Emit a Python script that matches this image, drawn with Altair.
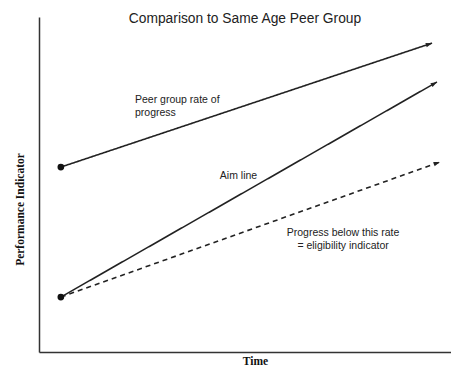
import math
import altair as alt
import pandas as pd

# ---- data (axis units 0..100) ----
series = ["Peer group", "Aim line", "Below rate"]
x_start = [5.3, 5.3, 5.3]
y_start = [55.2, 16.4, 16.4]
x_end = [95.4, 96.6, 97.3]
y_end = [92.2, 80.6, 56.7]
dashed = [False, False, True]
dots = [0, 1]  # series indices whose start has a dot

label_text = ["Peer group rate of", "progress", "Aim line",
              "Progress below this rate", "= eligibility indicator"]
label_x = [23.3, 23.3, 43.9, 73.8, 73.8]
label_y = [75.2, 71.3, 52.5, 35.5, 31.6]
label_align = ["left", "left", "left", "center", "center"]

W, H = 412, 335

rows = []
for i, s in enumerate(series):
    rows.append({"series": s, "x": x_start[i], "y": y_start[i], "o": 0})
    rows.append({"series": s, "x": x_end[i], "y": y_end[i], "o": 1})
lines_df = pd.DataFrame(rows)

heads_df = pd.DataFrame({
    "series": series,
    "x": x_end,
    "y": y_end,
    "angle": [
        (math.degrees(math.atan2(-(y_end[i] - y_start[i]) * H / 100,
                                 (x_end[i] - x_start[i]) * W / 100)) + 360) % 360
        for i in range(len(series))
    ],
})
dots_df = pd.DataFrame({"x": [x_start[i] for i in dots], "y": [y_start[i] for i in dots]})
labels_df = pd.DataFrame({"t": label_text, "x": label_x, "y": label_y, "a": label_align})

xs = alt.Scale(domain=[0, 100], nice=False, zero=False)
ys = alt.Scale(domain=[0, 100], nice=False, zero=False)

base_x = alt.X("x:Q", scale=xs, axis=alt.Axis(
    title="Time", labels=False, ticks=False, grid=False, domainColor="#333",
    domainWidth=1.5, titleFont="Liberation Serif", titleFontWeight="bold",
    titleFontSize=11.5, titleColor="#111", titleX=216, titleY=3))
base_y = alt.Y("y:Q", scale=ys, axis=alt.Axis(
    title="Performance Indicator", labels=False, ticks=False, grid=False,
    domainColor="#333", domainWidth=1.5, titleFont="Liberation Serif",
    titleFontWeight="bold", titleFontSize=11.5, titleColor="#111",
    titleX=-19, titleY=192, titleAngle=270, titleBaseline="middle"))

lines = alt.Chart(lines_df).mark_line(color="#222", strokeWidth=1.6).encode(
    x=base_x, y=base_y, order="o:Q", detail="series:N",
    strokeDash=alt.StrokeDash("series:N", scale=alt.Scale(
        domain=series, range=[[1, 0] if not d else [5, 4] for d in dashed]), legend=None),
)

heads = alt.Chart(heads_df).mark_point(
    shape="M -2 -0.7 L 0 0 L -2 0.7 Z", filled=True, color="#222", size=40, opacity=1
).encode(x=alt.X("x:Q", scale=xs), y=alt.Y("y:Q", scale=ys), angle=alt.Angle("angle:Q", scale=None))

dots_l = alt.Chart(dots_df).mark_circle(color="#111", size=45, opacity=1).encode(
    x=alt.X("x:Q", scale=xs), y=alt.Y("y:Q", scale=ys))

texts = []
for al in ["left", "center"]:
    texts.append(alt.Chart(labels_df[labels_df.a == al]).mark_text(
        align=al, baseline="middle", font="Liberation Sans", fontSize=10.5, color="#222"
    ).encode(x=alt.X("x:Q", scale=xs), y=alt.Y("y:Q", scale=ys), text="t:N"))

chart = alt.layer(lines, heads, dots_l, *texts).properties(
    width=W, height=H,
    title=alt.TitleParams("Comparison to Same Age Peer Group", font="Liberation Sans",
                          fontSize=13.8, fontWeight="normal", color="#222",
                          anchor="middle", offset=-9),
    autosize=alt.AutoSizeParams(type="none"),
    padding={"left": 31, "top": 9, "right": 0, "bottom": 15},
).configure_view(stroke=None)

chart.save("out.html", embed_options={"renderer": "svg", "actions": False})
